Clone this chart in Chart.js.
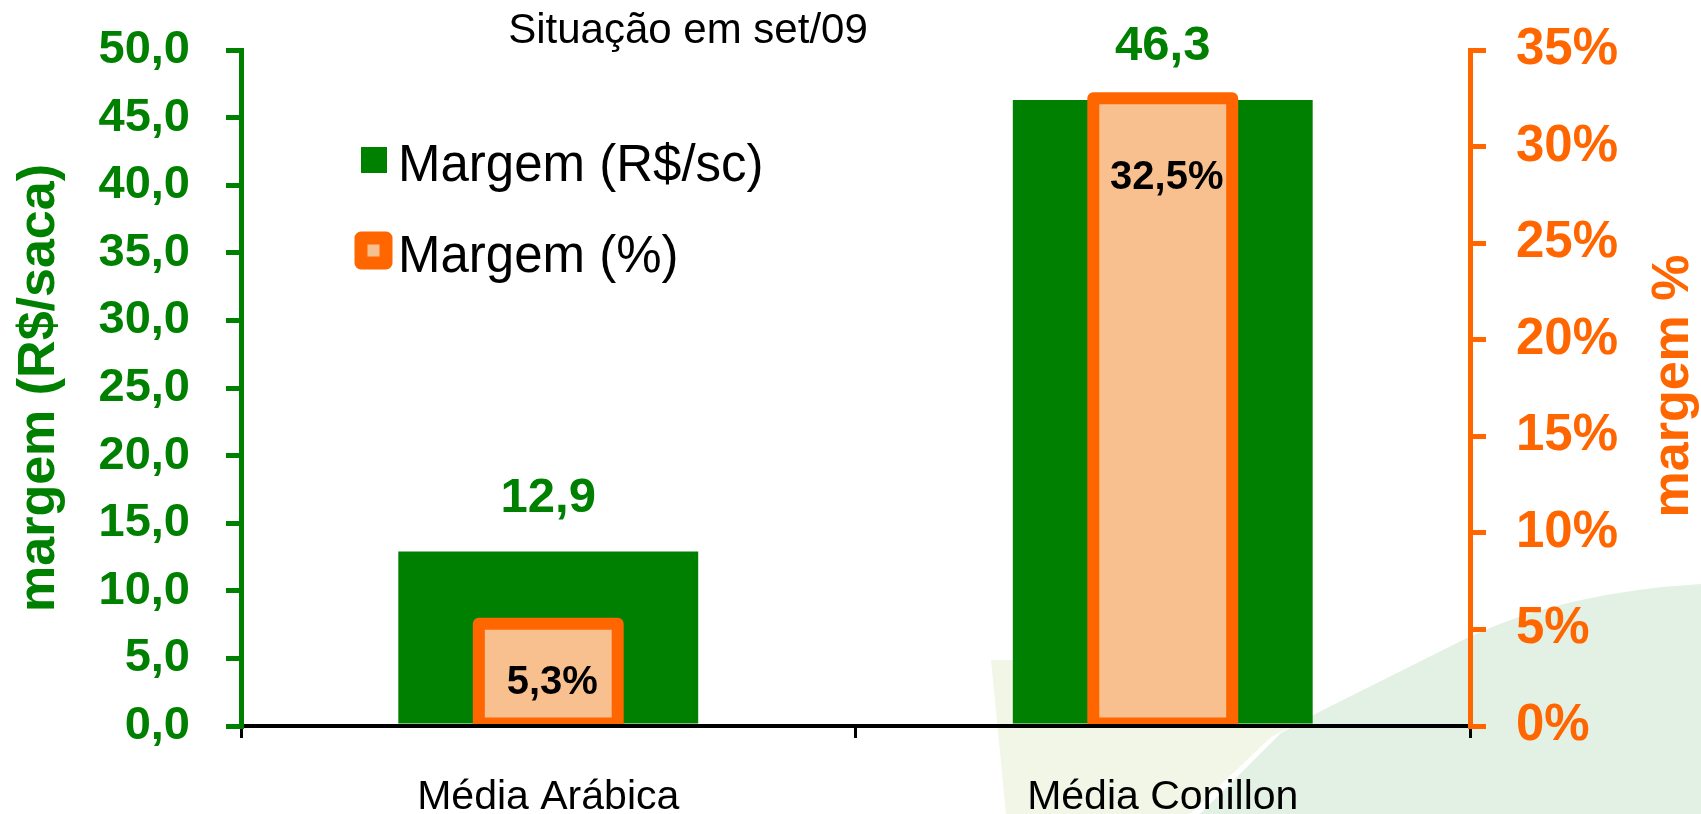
<!DOCTYPE html>
<html>
<head>
<meta charset="utf-8">
<title>Margem - Situação em set/09</title>
<script src="https://cdn.jsdelivr.net/npm/chart.js"></script>
<style>
  html, body { margin: 0; padding: 0; background: #fff; }
  canvas { display: block; }
</style>
</head>
<body>
<canvas id="chart" width="1701" height="814"></canvas>
<script>
const FONT = "'Liberation Sans', Arial, sans-serif";
const GREEN = "#008000";
const ORANGE = "#FF6600";
const PEACH = "#F9C08F";

// data
const categories = ["Média Arábica", "Média Conillon"];
const margemRs = [12.9, 46.3];   // R$/saca
const margemPct = [5.3, 32.5];   // %
const leftTicks = { min: 0, max: 50, step: 5 };
const rightTicks = { min: 0, max: 35, step: 5 };

const fmt = (v) => v.toFixed(1).replace(".", ",");

// background decoration, title, legend, axis titles, value labels
const extras = {
  id: "extras",
  beforeDraw(chart) {
    const c = chart.ctx;
    c.save();
    c.fillStyle = "#fff";
    c.fillRect(0, 0, chart.width, chart.height);
    c.fillStyle = "#F1F6E7";
    c.beginPath();
    c.moveTo(991, 660);
    c.lineTo(1308, 660);
    c.lineTo(1300, 722);
    c.lineTo(1271, 737);
    c.lineTo(1190, 814);
    c.lineTo(1006, 814);
    c.closePath();
    c.fill();
    c.fillStyle = "#E3F1E4";
    c.beginPath();
    c.moveTo(1701, 584);
    c.quadraticCurveTo(1565, 592, 1469, 637);
    c.lineTo(1317, 713);
    c.lineTo(1281, 733);
    c.lineTo(1200, 814);
    c.lineTo(1701, 814);
    c.closePath();
    c.fill();
    c.restore();
  },
  afterDatasetsDraw(chart) {
    const c = chart.ctx;
    const area = chart.chartArea;
    const metaRs = chart.getDatasetMeta(0);
    const metaPct = chart.getDatasetMeta(1);

    // orange outline centred on the bar edge
    c.save();
    c.beginPath();
    c.rect(0, 0, chart.width, area.bottom - 2);
    c.clip();
    c.strokeStyle = ORANGE;
    c.lineWidth = 12;
    c.lineJoin = "round";
    metaPct.data.forEach((bar) => {
      const p = bar.getProps(["x", "y", "base", "width"], true);
      c.strokeRect(p.x - p.width / 2, p.y, p.width, p.base - p.y);
    });
    c.restore();

    c.save();
    c.textAlign = "center";
    c.fillStyle = GREEN;
    c.font = "bold 49px " + FONT;
    c.textBaseline = "alphabetic";
    metaRs.data.forEach((bar, i) => {
      c.fillText(fmt(margemRs[i]), bar.x, bar.y - 40);
    });
    c.fillStyle = "#000";
    c.font = "bold 40px " + FONT;
    c.textBaseline = "middle";
    metaPct.data.forEach((bar, i) => {
      const yc = Math.min(bar.y + 80, (bar.y + bar.base) / 2 + 9);
      c.fillText(fmt(margemPct[i]) + "%", bar.x + 4, yc);
    });
    c.restore();
  },
  afterDraw(chart) {
    const c = chart.ctx;
    const ds = chart.data.datasets;
    c.save();
    // title
    c.fillStyle = "#000";
    c.font = "42px " + FONT;
    c.textAlign = "center";
    c.textBaseline = "alphabetic";
    c.fillText("Situação em set/09", 688, 43);

    // legend
    c.fillStyle = GREEN;
    c.fillRect(361, 147, 26, 26);
    c.fillStyle = PEACH;
    c.strokeStyle = ORANGE;
    c.lineWidth = 13;
    c.lineJoin = "round";
    c.beginPath();
    c.rect(361, 238, 25, 25);
    c.fill();
    c.stroke();
    c.fillStyle = "#000";
    c.font = "51px " + FONT;
    c.textAlign = "left";
    c.fillText(ds[0].label, 398, 181);
    c.fillText(ds[1].label, 398, 272);

    // axis titles
    c.font = "bold 52px " + FONT;
    c.textAlign = "center";
    c.fillStyle = GREEN;
    c.translate(54, 388);
    c.rotate(-Math.PI / 2);
    c.fillText("margem (R$/saca)", 0, 0);
    c.setTransform(1, 0, 0, 1, 0, 0);
    c.fillStyle = ORANGE;
    c.translate(1688, 386);
    c.rotate(-Math.PI / 2);
    c.fillText("margem %", 0, 0);
    c.restore();
  }
};

// fixed axis widths, no extra label padding from the layout
const fitY = (w) => (s) => {
  s.width = w;
  s.paddingTop = 0;
  s.paddingBottom = 0;
};

new Chart(document.getElementById("chart").getContext("2d"), {
  type: "bar",
  data: {
    labels: categories,
    datasets: [
      {
        label: "Margem (R$/sc)",
        data: margemRs,
        yAxisID: "y",
        backgroundColor: GREEN,
        borderWidth: 0,
        grouped: false,
        barPercentage: 1,
        categoryPercentage: 0.488,
        order: 1,
      },
      {
        label: "Margem (%)",
        data: margemPct,
        yAxisID: "y1",
        backgroundColor: PEACH,
        borderWidth: 0,
        grouped: false,
        barPercentage: 1,
        categoryPercentage: 0.226,
        order: 0,
      },
    ],
  },
  options: {
    responsive: false,
    animation: false,
    devicePixelRatio: 1,
    layout: { padding: { top: 50, left: 0, right: 0, bottom: 0 } },
    plugins: {
      legend: { display: false },
      tooltip: { enabled: false },
    },
    scales: {
      x: {
        offset: true,
        grid: {
          offset: true,
          drawOnChartArea: false,
          drawTicks: true,
          tickLength: 12,
          color: "#000",
          lineWidth: 3,
        },
        border: { display: true, color: "#000", width: 4 },
        ticks: {
          color: "#000",
          padding: 35,
          font: { family: FONT, size: 41 },
        },
        afterFit: (s) => { s.height = 88; s.paddingLeft = 0; s.paddingRight = 0; },
      },
      y: {
        position: "left",
        min: leftTicks.min,
        max: leftTicks.max,
        grid: {
          drawOnChartArea: false,
          tickLength: 15,
          color: GREEN,
          lineWidth: 5,
        },
        border: { display: true, color: GREEN, width: 5 },
        ticks: {
          stepSize: leftTicks.step,
          color: GREEN,
          padding: 36,
          font: { family: FONT, size: 47, weight: "bold" },
          callback: (v) => fmt(v),
        },
        afterFit: fitY(241),
      },
      y1: {
        position: "right",
        min: rightTicks.min,
        max: rightTicks.max,
        grid: {
          drawOnChartArea: false,
          tickLength: 16,
          color: ORANGE,
          lineWidth: 5,
        },
        border: { display: true, color: ORANGE, width: 5 },
        ticks: {
          stepSize: rightTicks.step,
          color: ORANGE,
          padding: 30,
          font: { family: FONT, size: 51, weight: "bold" },
          callback: (v) => v + "%",
        },
        afterFit: fitY(231),
      },
    },
  },
  plugins: [extras],
});
</script>
</body>
</html>
